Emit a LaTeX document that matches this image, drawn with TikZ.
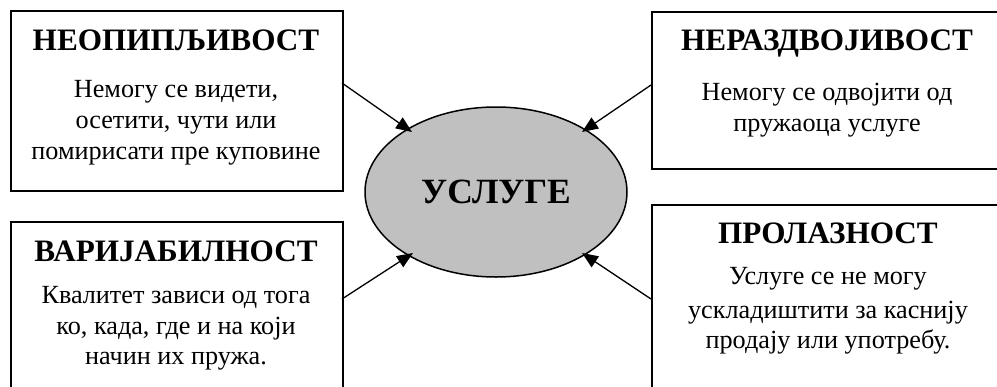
\documentclass[tikz,border=0pt]{standalone}
\usepackage{fontspec}
\setmainfont{Liberation Serif}
\usetikzlibrary{shapes.geometric,arrows.meta}
\tikzset{
  box/.style={draw=black, line width=1.6pt, rectangle, inner sep=0pt, anchor=north west},
  title/.style={anchor=base, inner sep=0pt, font=\fontsize{31.2}{36}\selectfont\bfseries},
  body/.style={anchor=base, inner sep=0pt, font=\fontsize{26.2}{31}\selectfont},
  core/.style={draw=black, line width=1.5pt, ellipse, fill={rgb,255:red,192;green,192;blue,192}, minimum width=262pt, minimum height=170pt, inner sep=0pt, font=\fontsize{35.5}{40}\selectfont\bfseries},
  conn/.style={line width=1.3pt, -{Triangle[length=16pt,width=13pt]}}
}
\begin{document}
\begin{tikzpicture}[x=1pt,y=-1pt]
\useasboundingbox (0,0) rectangle (997,386);
\clip (0,0) rectangle (997,386);
% boxes
\node[box, minimum width=332pt, minimum height=180pt] (b1) at (10,10) {};
\node[box, minimum width=352pt, minimum height=157pt] (b2) at (651,11) {};
\node[box, minimum width=332pt, minimum height=180pt] (b3) at (10,221) {};
\node[box, minimum width=352pt, minimum height=190pt] (b4) at (651,204) {};
% centre
\node[core] (usl) at (496,192) {УСЛУГЕ};
% texts top-left
\node[title] (t1) at (176,50) {НЕОПИПЉИВОСТ};
\node[body] (t1a) at (176,97) {Немогу се видети,};
\node[body] (t1b) at (176,128) {осетити, чути или};
\node[body] (t1c) at (176,159) {помирисати пре куповине};
% top-right
\node[title] (t2) at (827,50) {НЕРАЗДВОЈИВОСТ};
\node[body] (t2a) at (827,100) {Немогу се одвојити од};
\node[body] (t2b) at (827,131) {пружаоца услуге};
% bottom-left
\node[title] (t3) at (176,261) {ВАРИЈАБИЛНОСТ};
\node[body] (t3a) at (176,303) {Квалитет зависи од тога};
\node[body] (t3b) at (176,334) {ко, када, где и на који};
\node[body] (t3c) at (176,364) {начин их пружа.};
% bottom-right
\node[title] (t4) at (828,243) {ПРОЛАЗНОСТ};
\node[body] (t4a) at (828,284) {Услуге се не могу};
\node[body] (t4b) at (828,318) {ускладиштити за каснију};
\node[body] (t4c) at (828,348) {продају или употребу.};
% connector ends
\coordinate (s1) at (342,83);
\coordinate (e1) at (412,132);
\coordinate (s2) at (651,85);
\coordinate (e2) at (582,132);
\coordinate (s3) at (342,299);
\coordinate (e3) at (413,253);
\coordinate (s4) at (651,299);
\coordinate (e4) at (582,253);
\draw[conn] (s1) -- (e1);
\draw[conn] (s2) -- (e2);
\draw[conn] (s3) -- (e3);
\draw[conn] (s4) -- (e4);
\end{tikzpicture}
\end{document}
